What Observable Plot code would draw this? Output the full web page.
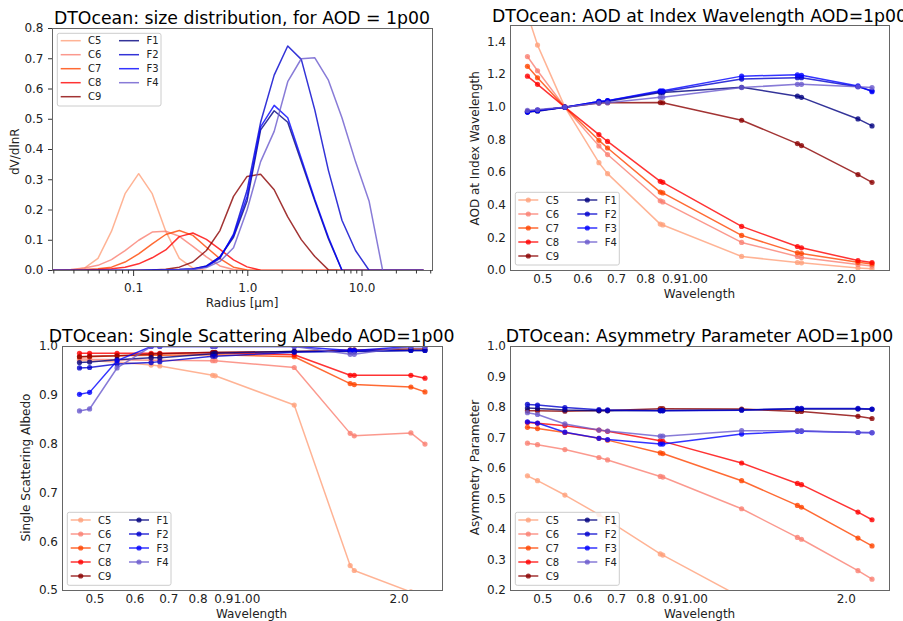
<!DOCTYPE html>
<html><head><meta charset="utf-8">
<script src="https://cdn.jsdelivr.net/npm/d3@7"></script>
<script src="https://cdn.jsdelivr.net/npm/@observablehq/plot@0.6"></script>
<style>
body{margin:0;background:#fff;font-family:"DejaVu Sans",sans-serif;}
#root{position:relative;width:903px;height:621px;overflow:hidden;background:#fff;}
.panel{position:absolute;overflow:hidden;}
#overlay{position:absolute;left:0;top:0;pointer-events:none;}
</style></head><body><div id="root"></div>
<script>
// ---------- data ----------
const seriesNames = ["C5","C6","C7","C8","C9","F1","F2","F3","F4"];
const seriesColors = ["lightsalmon","salmon","orangered","red","darkred","navy","mediumblue","blue","slateblue"];

// size distribution (radius in um, dV/dlnR)
const radius = [0.01633,0.02148,0.02822,0.03710,0.04874,0.06405,0.08418,0.1107,0.1455,0.1911,0.2513,0.3302,0.4339,0.5703,0.7497,0.9854,1.295,1.702,2.237,2.940,3.865,5.080,6.676,8.774,11.53,15.16,19.92,26.18,34.41];
const sdC5 = [0,0,0.001,0.008,0.04,0.13,0.254,0.32,0.254,0.13,0.04,0.008,0.001,0,0,0,0,0,0,0,0,0,0,0,0,0,0,0,0];
const sdC6 = [0,0.001,0.003,0.008,0.017,0.036,0.066,0.10,0.127,0.130,0.113,0.08,0.045,0.015,0.003,0,0,0,0,0,0,0,0,0,0,0,0,0,0];
const sdC7 = [0,0,0.001,0.003,0.006,0.011,0.028,0.055,0.088,0.119,0.132,0.116,0.077,0.039,0.011,0.002,0,0,0,0,0,0,0,0,0,0,0,0,0];
const sdC8 = [0,0,0,0.001,0.003,0.006,0.011,0.022,0.042,0.068,0.112,0.124,0.103,0.07,0.035,0.012,0.001,0,0,0,0,0,0,0,0,0,0,0,0];
const sdC9 = [0,0,0,0,0,0,0,0.001,0.002,0.004,0.011,0.028,0.066,0.132,0.245,0.311,0.318,0.267,0.177,0.102,0.046,0.002,0,0,0,0,0,0,0];
const sdF1 = [0,0,0,0,0,0,0,0,0.001,0.002,0.003,0.005,0.015,0.045,0.11,0.23,0.465,0.528,0.49,0.36,0.23,0.105,0.001,0,0,0,0,0,0];
const sdF2 = [0,0,0,0,0,0,0,0,0.001,0.001,0.002,0.004,0.012,0.04,0.12,0.265,0.49,0.646,0.742,0.698,0.53,0.331,0.166,0.066,0.001,0,0,0,0];
const sdF3 = [0,0,0,0,0,0,0,0,0.001,0.002,0.003,0.005,0.014,0.045,0.115,0.245,0.475,0.546,0.505,0.37,0.235,0.11,0.001,0,0,0,0,0,0];
const sdF4 = [0,0,0,0,0,0,0,0,0,0.001,0.002,0.003,0.01,0.03,0.075,0.2,0.36,0.46,0.624,0.70,0.703,0.629,0.505,0.36,0.23,0.001,0,0,0];

// optical properties vs wavelength (um)
const wavelengths = [0.466,0.488,0.553,0.646,0.672,0.855,0.865,1.24,1.60,1.63,2.11,2.25];
const aodC5 = [1.57,1.38,1.0,0.66,0.593,0.284,0.279,0.086,0.049,0.047,0.016,0.01];
const aodC6 = [1.31,1.223,1.0,0.763,0.71,0.427,0.42,0.172,0.086,0.08,0.037,0.027];
const aodC7 = [1.25,1.18,1.0,0.797,0.75,0.48,0.475,0.215,0.108,0.104,0.05,0.04];
const aodC8 = [1.19,1.14,1.0,0.832,0.79,0.546,0.54,0.27,0.147,0.139,0.061,0.049];
const aodC9 = [0.975,0.98,1.0,1.025,1.027,1.028,1.027,0.92,0.777,0.765,0.587,0.54];
const aodF1 = [0.97,0.975,1.0,1.03,1.035,1.09,1.09,1.122,1.067,1.06,0.928,0.885];
const aodF2 = [0.97,0.98,1.0,1.035,1.04,1.095,1.095,1.172,1.18,1.18,1.125,1.10];
const aodF3 = [0.97,0.98,1.0,1.035,1.04,1.10,1.10,1.19,1.198,1.195,1.13,1.095];
const aodF4 = [0.98,0.985,1.0,1.025,1.027,1.06,1.06,1.12,1.14,1.14,1.125,1.12];

const ssaC5 = [0.972,0.971,0.968,0.962,0.96,0.941,0.94,0.88,0.551,0.541,0.497,0.47];
const ssaC6 = [0.975,0.974,0.973,0.972,0.972,0.971,0.971,0.957,0.822,0.817,0.823,0.80];
const ssaC7 = [0.979,0.979,0.981,0.982,0.982,0.983,0.983,0.979,0.924,0.922,0.917,0.907];
const ssaC8 = [0.986,0.986,0.986,0.986,0.986,0.987,0.987,0.983,0.941,0.941,0.941,0.935];
const ssaC9 = [0.979,0.98,0.981,0.984,0.985,0.988,0.988,0.99,0.993,0.993,0.995,0.995];
const ssaF1 = [0.967,0.968,0.973,0.977,0.977,0.985,0.986,0.99,0.99,0.99,0.992,0.992];
const ssaF2 = [0.956,0.957,0.964,0.967,0.969,0.98,0.98,0.988,0.991,0.991,0.992,0.992];
const ssaF3 = [0.902,0.906,0.971,1.0,1.0,1.0,1.0,1.0,0.992,0.992,1.0,1.0];
const ssaF4 = [0.868,0.872,0.956,1.0,1.0,1.0,1.0,1.0,0.984,0.984,1.0,1.0];

const asyC5 = [0.576,0.56,0.513,0.449,0.431,0.32,0.316,0.177,0.1,0.095,0.05,0.04];
const asyC6 = [0.683,0.678,0.662,0.636,0.628,0.574,0.572,0.468,0.374,0.368,0.265,0.237];
const asyC7 = [0.735,0.731,0.718,0.699,0.693,0.651,0.649,0.56,0.479,0.473,0.372,0.346];
const asyC8 = [0.751,0.748,0.74,0.726,0.722,0.691,0.689,0.618,0.551,0.547,0.457,0.432];
const asyC9 = [0.789,0.789,0.788,0.79,0.79,0.796,0.796,0.795,0.787,0.787,0.771,0.764];
const asyF1 = [0.798,0.797,0.792,0.789,0.789,0.79,0.79,0.792,0.795,0.795,0.795,0.794];
const asyF2 = [0.81,0.808,0.80,0.793,0.792,0.789,0.789,0.791,0.797,0.797,0.797,0.795];
const asyF3 = [0.753,0.749,0.719,0.699,0.695,0.68,0.68,0.713,0.722,0.722,0.718,0.717];
const asyF4 = [0.783,0.777,0.746,0.726,0.723,0.706,0.706,0.724,0.724,0.724,0.718,0.718];

// ticks
const sdMajorTicks = [0.1, 1, 10];
const sdMajorLabels = ["0.1", "1.0", "10.0"];
const sdMinorTicks = [0.02,0.03,0.04,0.05,0.06,0.07,0.08,0.09,0.2,0.3,0.4,0.5,0.6,0.7,0.8,0.9,2,3,4,5,6,7,8,9,20,30,40];
const sdYTicks = [0,0.1,0.2,0.3,0.4,0.5,0.6,0.7,0.8];
const wlTicks = [0.5,0.6,0.7,0.8,0.9,1.0,2.0];
const wlLabels = ["0.5","0.6","0.7","0.8","0.9","1.00","2.0"];
const aodYTicks = [0,0.2,0.4,0.6,0.8,1.0,1.2,1.4];
const ssaYTicks = [0.5,0.6,0.7,0.8,0.9,1.0];
const asyYTicks = [0.2,0.3,0.4,0.5,0.6,0.7,0.8,0.9,1.0];

// titles / labels
const titles = ["DTOcean: size distribution, for AOD = 1p00","DTOcean: AOD at Index Wavelength AOD=1p00","DTOcean: Single Scattering Albedo AOD=1p00","DTOcean: Asymmetry Parameter AOD=1p00"];

// ---------- tables ----------
function longTable(xs, arrays) {
  const out = [];
  seriesNames.forEach((n, i) => arrays[i].forEach((v, j) => out.push({name: n, x: xs[j], v})));
  return out;
}
const sd = longTable(radius, [sdC5,sdC6,sdC7,sdC8,sdC9,sdF1,sdF2,sdF3,sdF4]);
const aod = longTable(wavelengths, [aodC5,aodC6,aodC7,aodC8,aodC9,aodF1,aodF2,aodF3,aodF4]);
const ssa = longTable(wavelengths, [ssaC5,ssaC6,ssaC7,ssaC8,ssaC9,ssaF1,ssaF2,ssaF3,ssaF4]);
const asy = longTable(wavelengths, [asyC5,asyC6,asyC7,asyC8,asyC9,asyF1,asyF2,asyF3,asyF4]);

const root = document.getElementById("root");
const FONT = "DejaVu Sans";
const ALPHA = 0.8;

function addPanel(left, top, w, h, svg) {
  const d = document.createElement("div");
  d.className = "panel";
  d.style.left = left + "px"; d.style.top = top + "px";
  d.style.width = w + "px"; d.style.height = h + "px";
  d.appendChild(svg);
  root.appendChild(d);
}

const colorScale = {domain: seriesNames, range: seriesColors};

// Panel 1: size distribution
addPanel(0, 0, 450, 310, Plot.plot({
  width: 450, height: 310, marginLeft: 52, marginRight: 18, marginTop: 28, marginBottom: 40,
  style: {fontFamily: FONT, fontSize: "12px", background: "transparent", color: "#222"},
  x: {type: "log", domain: [0.01948, 41.45]},
  y: {domain: [0, 0.8]},
  color: colorScale,
  marks: [
    Plot.line(sd, {x: "x", y: "v", z: "name", stroke: "name", strokeWidth: 1.5, strokeOpacity: ALPHA, clip: true}),
    Plot.frame({stroke: "#666"}),
    Plot.axisX({ticks: sdMinorTicks, tickSize: 3.5, tickFormat: () => "", label: null, stroke: "#333"}),
    Plot.axisX({ticks: sdMajorTicks, tickSize: 6, tickPadding: 7, tickFormat: (d, i) => sdMajorLabels[sdMajorTicks.indexOf(d)], label: null, fontSize: 12, stroke: "#333"}),
    Plot.axisY({ticks: sdYTicks, tickSize: 4, tickPadding: 5, tickFormat: d => d.toFixed(1), label: null, fontSize: 12, stroke: "#333"})
  ]
}));

function wlPanel(left, top, data, yDomain, yTicks, mT, mB, mL, mR, w, h) {
  addPanel(left, top, w, h, Plot.plot({
    width: w, height: h, marginLeft: mL, marginRight: mR, marginTop: mT, marginBottom: mB,
    style: {fontFamily: FONT, fontSize: "12px", background: "transparent", color: "#222"},
    x: {type: "log", domain: [0.4313, 2.437]},
    y: {domain: yDomain},
    color: colorScale,
    marks: [
      Plot.line(data, {x: "x", y: "v", z: "name", stroke: "name", strokeWidth: 1.5, strokeOpacity: ALPHA, clip: true}),
      Plot.dot(data, {x: "x", y: "v", fill: "name", fillOpacity: ALPHA, r: 2.6, clip: true}),
      Plot.frame({stroke: "#666"}),
      Plot.axisX({ticks: wlTicks, tickSize: 0, tickPadding: 3.5, tickFormat: d => wlLabels[wlTicks.indexOf(d)], label: null, fontSize: 12}),
      Plot.axisY({ticks: yTicks, tickSize: 0, tickPadding: 4.5, tickFormat: d => d.toFixed(1), label: null, fontSize: 12})
    ]
  }));
}
wlPanel(450, 0, aod, [0, 1.5], aodYTicks, 25, 40, 60, 14, 453, 310);
wlPanel(0, 310, ssa, [0.5, 1.0], ssaYTicks, 36, 31, 62, 8, 450, 311);
wlPanel(450, 310, asy, [0.2, 1.0], asyYTicks, 36, 31, 60, 14, 453, 311);

// ---------- overlay: titles, axis labels, legends ----------
const ov = d3.select(root).append("svg").attr("id", "overlay").attr("width", 903).attr("height", 621)
  .style("font-family", FONT);
ov.append("clipPath").attr("id", "clipP1").append("rect").attr("x", 0).attr("y", 0).attr("width", 450).attr("height", 310);

const titlePos = [[242, 24.3], [699.5, 21.7], [251.7, 341.7], [699.5, 341.7]];
titles.forEach((t, i) => ov.append("text").attr("x", titlePos[i][0]).attr("y", titlePos[i][1])
  .attr("text-anchor", "middle").attr("font-size", 17.3).attr("fill", "#000").text(t));

function xLabel(t, x, y, clip) {
  const e = ov.append("text").attr("x", x).attr("y", y).attr("text-anchor", "middle").attr("font-size", 12).attr("fill", "#222").text(t);
  if (clip) e.attr("clip-path", "url(#clipP1)");
}
function yLabel(t, x, y) {
  ov.append("text").attr("transform", `translate(${x},${y}) rotate(-90)`).attr("text-anchor", "middle")
    .attr("font-size", 12).attr("fill", "#222").text(t);
}
xLabel("Radius [\u03bcm]", 242, 306.5, true);
xLabel("Wavelength", 699.4, 298);
xLabel("Wavelength", 251.5, 618);
xLabel("Wavelength", 699.6, 618);
yLabel("dV/dlnR", 19.3, 151.7);
yLabel("AOD at Index Wavelength", 478.8, 148.3);
yLabel("Single Scattering Albedo", 30.4, 467.5);
yLabel("Asymmetry Parameter", 478.8, 467.5);

function legend(bx, by, bw, bh, y0, dy, c1, c2, markers) {
  const g = ov.append("g");
  g.append("rect").attr("x", bx).attr("y", by).attr("width", bw).attr("height", bh).attr("rx", 2)
    .attr("fill", "#fff").attr("fill-opacity", 0.8).attr("stroke", "#ccc");
  seriesNames.forEach((n, i) => {
    const col = i < 5 ? 0 : 1, row = i < 5 ? i : i - 5;
    const x0 = col ? c2 : c1, y = y0 + row * dy;
    g.append("line").attr("x1", x0).attr("x2", x0 + 20).attr("y1", y).attr("y2", y)
      .attr("stroke", seriesColors[i]).attr("stroke-opacity", ALPHA).attr("stroke-width", 1.5);
    if (markers) g.append("circle").attr("cx", x0 + 10).attr("cy", y).attr("r", 2.6)
      .attr("fill", seriesColors[i]).attr("fill-opacity", ALPHA);
    g.append("text").attr("x", x0 + 27.4).attr("y", y).attr("dy", "0.35em").attr("font-size", 10)
      .attr("fill", "#222").text(n);
  });
}
legend(57.3, 33.3, 103.7, 72.7, 40.7, 14, 60.7, 119, false);
legend(515.3, 192.3, 104, 72.7, 200, 14, 518.3, 577.3, true);
legend(67.3, 512.3, 103.7, 73, 520, 14, 70.7, 129, true);
legend(515.3, 512.3, 104, 73, 520, 14, 518.3, 577.3, true);
</script></body></html>
